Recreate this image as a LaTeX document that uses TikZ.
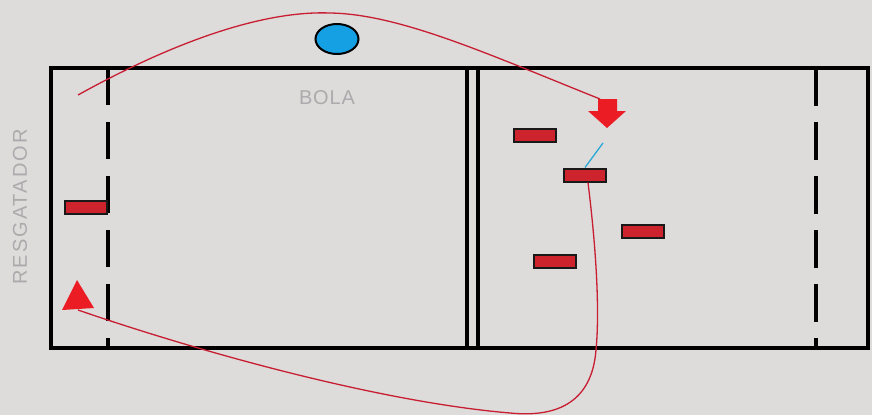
\documentclass[tikz,border=0pt]{standalone}
\usepackage{fontspec}
\setmainfont{Liberation Sans}
\newfontfamily\spaced[LetterSpace=10]{Liberation Sans}
\newfontfamily\spacedb[LetterSpace=4]{Liberation Sans}
\usetikzlibrary{shapes.geometric}
\definecolor{bg}{RGB}{222,219,219}
\definecolor{plred}{RGB}{205,35,45}
\definecolor{arred}{RGB}{236,28,36}
\definecolor{trred}{RGB}{200,30,50}
\definecolor{ballblue}{RGB}{22,160,228}
\definecolor{lbl}{RGB}{172,170,172}
\definecolor{cyanline}{RGB}{40,170,215}
\tikzset{
  court/.style={line width=3.6pt, line cap=rect},
  dashline/.style={line width=3.6pt},
  player/.style={rectangle, draw=black!90, line width=2pt, fill=plred, minimum width=42pt, minimum height=13pt, inner sep=0pt},
  traj/.style={trred, line width=1.3pt},
  lab/.style={text=lbl, inner sep=0pt}
}
\begin{document}
\begin{tikzpicture}[x=1pt,y=-1pt]
\fill[bg] (0,0) rectangle (872,415);
\useasboundingbox (0,0) rectangle (872,415);
% court
\draw[court] (51,68) rectangle (868,348);
\draw[court, line cap=butt] (467,68) -- (467,348);
\draw[court, line cap=butt] (478,68) -- (478,348);
\draw[dashline, dash pattern=on 37pt off 17pt] (108,68) -- (108,348);
\draw[dashline, dash pattern=on 38pt off 16pt] (816,68) -- (816,348);
% labels
\node[lab, font=\spacedb\fontsize{20}{20}\selectfont] (bola) at (327,98) {BOLA};
\node[lab, rotate=90, font=\spaced\fontsize{20}{20}\selectfont] (resg) at (20,207) {RESGATADOR};
% ball
\node[ellipse, draw=black, line width=2pt, fill=ballblue, minimum width=43pt, minimum height=30pt, inner sep=0pt] (ball) at (337,39) {};
% players
\node[player] (p1) at (86,207) {};
\node[player] (p2) at (535,135) {};
\node[player] (p3) at (585,175) {};
\node[player] (p4) at (643,231) {};
\node[player] (p5) at (555,261) {};
% arrow heads
\fill[arred] (598,99) -- (617,99) -- (617,111) -- (626,111) -- (607,128) -- (588,111) -- (598,111) -- cycle;
\coordinate (arrtop) at (600,99);
\fill[arred] (77,280) -- (94,308) -- (62,310) -- cycle;
\coordinate (tri) at (78,310);
\coordinate (s1) at (78,95);
% trajectories
\draw[traj] (s1) .. controls (150,55) and (250,10) .. (330,13) .. controls (400,14) and (490,55) .. (arrtop);
\draw[traj] (p3.south) ++(3,0) .. controls (600,280) and (598,330) .. (596,350) .. controls (592,400) and (560,418) .. (510,413) .. controls (380,402) and (200,352) .. (tri);
% pass
\draw[cyanline, line width=1.3pt] (603,143) -- (p3.north);
\end{tikzpicture}
\end{document}
